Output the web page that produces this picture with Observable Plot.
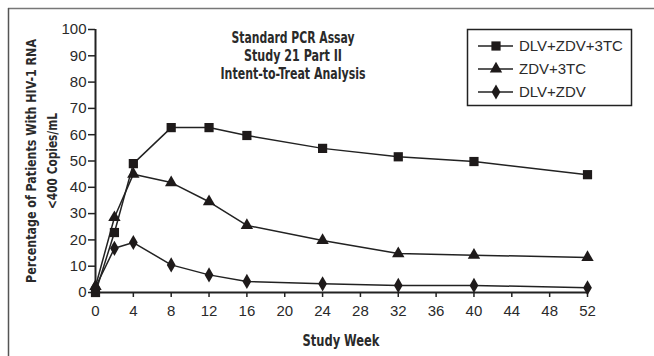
<!DOCTYPE html>
<html>
<head>
<meta charset="utf-8">
<script src="https://cdn.jsdelivr.net/npm/d3@7"></script>
<script src="https://cdn.jsdelivr.net/npm/@observablehq/plot@0.6"></script>
<style>
  html, body { margin: 0; padding: 0; background: #fff; }
  #chart { width: 654px; height: 356px; }
</style>
</head>
<body>
<div id="chart"></div>
<script>
const weeks = [0, 2, 4, 8, 12, 16, 24, 32, 40, 52];
const seriesNames = ["DLV+ZDV+3TC", "ZDV+3TC", "DLV+ZDV"];
const seriesSymbols = ["square", "triangle", "diamond"];
const dlvZdv3tc = [0, 22.8, 49, 62.7, 62.7, 59.7, 54.8, 51.6, 49.8, 44.8];
const zdv3tc = [2.3, 28.5, 45, 41.8, 34.5, 25.5, 19.8, 14.8, 14.2, 13.3];
const dlvZdv = [2, 16.8, 19, 10.5, 6.7, 4.2, 3.3, 2.7, 2.7, 1.8];
const xTicks = d3.range(0, 53, 4);
const yTicks = d3.range(0, 101, 10);
const titleLines = ["Standard PCR Assay", "Study 21 Part II", "Intent-to-Treat Analysis"];
const yLabelLines = ["Percentage of Patients With HIV-1 RNA", "<400 Copies/mL"];
const xLabel = "Study Week";

const values = [dlvZdv3tc, zdv3tc, dlvZdv];
const data = [];
values.forEach((vals, i) => vals.forEach((v, j) => data.push({series: seriesNames[i], sym: seriesSymbols[i], week: weeks[j], value: v})));

const condensed = "'Liberation Sans Narrow', 'Arial Narrow', 'DejaVu Sans Condensed', sans-serif";
const W = 654, H = 356;
const mL = 95, mR = 67, mT = 29, mB = 64;

const plot = Plot.plot({
  width: W, height: H,
  marginLeft: mL, marginRight: mR, marginTop: mT, marginBottom: mB,
  style: {fontFamily: "'Liberation Sans', Arial, sans-serif", fontSize: "15px", color: "#2a2a2a", background: "#fff"},
  x: {domain: [0, 52], ticks: xTicks, label: null},
  y: {domain: [0, 100], ticks: yTicks, label: null},
  symbol: {domain: seriesNames, range: seriesSymbols},
  marks: [
    Plot.axisX({ticks: xTicks, tickSize: 5, tickPadding: 8, label: null, stroke: "#222", strokeWidth: 1.5, fill: "#2a2a2a"}),
    Plot.axisY({ticks: yTicks, tickSize: 7, tickPadding: 2, label: null, stroke: "#222", strokeWidth: 1.5, fill: "#2a2a2a"}),
    Plot.ruleY([0], {stroke: "#222", strokeWidth: 2}),
    Plot.ruleX([0], {stroke: "#222", strokeWidth: 2}),
    Plot.line(data, {x: "week", y: "value", z: "series", stroke: "#222", strokeWidth: 1.5}),
    Plot.dot(data.filter(d => d.sym === "square"), {x: "week", y: "value", symbol: "series", r: 5.2, fill: "#1e1a1a", stroke: "none"}),
    Plot.dot(data.filter(d => d.sym === "triangle"), {x: "week", y: "value", symbol: "series", r: 4.6, fill: "#1e1a1a", stroke: "none"}),
    Plot.dot(data.filter(d => d.sym === "diamond"), {x: "week", y: "value", symbol: "series", r: 4.6, fill: "#1e1a1a", stroke: "none"})
  ]
});

document.getElementById("chart").appendChild(plot);
const svg = d3.select(plot);

// frame lines
svg.append("line").attr("x1", 8).attr("y1", 8.5).attr("x2", W).attr("y2", 8.5).attr("stroke", "#777").attr("stroke-width", 1.5);
svg.append("line").attr("x1", 8.5).attr("y1", 8).attr("x2", 8.5).attr("y2", H).attr("stroke", "#555").attr("stroke-width", 1.5);

// title lines
const tg = svg.append("g").attr("font-family", condensed).attr("font-weight", "bold").attr("font-size", 16).attr("fill", "#2a2a2a").attr("text-anchor", "middle");
const titleLens = [123, 98, 145];
titleLines.forEach((t, i) => {
  tg.append("text").attr("x", 293).attr("y", 43 + i * 18).attr("textLength", titleLens[i]).attr("lengthAdjust", "spacingAndGlyphs").text(t);
});

// y label
const yg = svg.append("g").attr("font-family", condensed).attr("font-weight", "bold").attr("font-size", 14).attr("fill", "#2a2a2a").attr("text-anchor", "middle");
const yLens = [244, 96];
const yX = [36, 57];
yLabelLines.forEach((t, i) => {
  yg.append("text").attr("transform", `translate(${yX[i]},161) rotate(-90)`).attr("textLength", yLens[i]).attr("lengthAdjust", "spacingAndGlyphs").text(t);
});

// x label
svg.append("text").attr("x", 341).attr("y", 346).attr("text-anchor", "middle").attr("font-family", condensed).attr("font-weight", "bold").attr("font-size", 16).attr("fill", "#2a2a2a").attr("textLength", 77).attr("lengthAdjust", "spacingAndGlyphs").text(xLabel);

// legend
const lg = svg.append("g").attr("text-anchor", "start");
lg.append("rect").attr("x", 467.5).attr("y", 29.5).attr("width", 164).attr("height", 76).attr("fill", "#fff").attr("stroke", "#222").attr("stroke-width", 1.5);
const symMap = {square: d3.symbolSquare, triangle: d3.symbolTriangle, diamond: d3.symbolDiamond};
const symSize = {square: Math.PI * 5.2 * 5.2, triangle: Math.PI * 4.6 * 4.6, diamond: Math.PI * 4.6 * 4.6};
seriesNames.forEach((name, i) => {
  const y = 46 + i * 23;
  lg.append("line").attr("x1", 478).attr("x2", 513).attr("y1", y).attr("y2", y).attr("stroke", "#222").attr("stroke-width", 1.5);
  const s = seriesSymbols[i];
  lg.append("path").attr("transform", `translate(496,${y})`).attr("d", d3.symbol(symMap[s], symSize[s])()).attr("fill", "#1e1a1a");
  lg.append("text").attr("x", 519).attr("y", y + 5).attr("text-anchor", "start").attr("font-family", "'Liberation Sans', Arial, sans-serif").attr("font-size", 15).attr("fill", "#2a2a2a").text(name);
});
</script>
</body>
</html>
